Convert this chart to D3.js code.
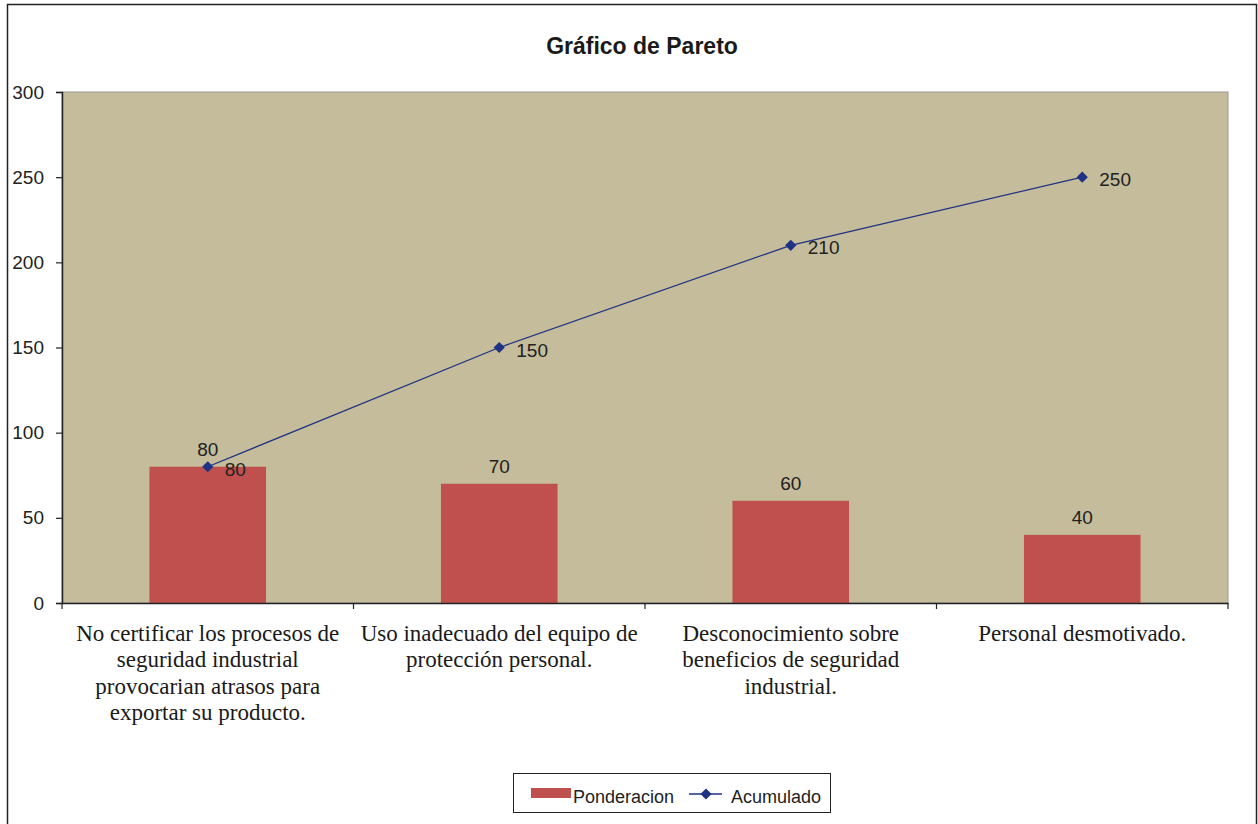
<!DOCTYPE html>
<html>
<head>
<meta charset="utf-8">
<script src="https://cdn.jsdelivr.net/npm/d3@7"></script>
<style>
  html, body { margin: 0; padding: 0; background: #fff; }
  svg { display: block; }
</style>
</head>
<body>
<svg id="chart" width="1258" height="824"></svg>
<script>
const categories = [
  ["No certificar los procesos de", "seguridad industrial", "provocarian atrasos para", "exportar su producto."],
  ["Uso inadecuado del equipo de", "protección personal."],
  ["Desconocimiento sobre", "beneficios de seguridad", "industrial."],
  ["Personal desmotivado."]
];
const ponderacion = [80, 70, 60, 40];
const acumulado = [80, 150, 210, 250];
const yTicks = [0, 50, 100, 150, 200, 250, 300];
const title = "Gráfico de Pareto";
const seriesNames = ["Ponderacion", "Acumulado"];

const svg = d3.select("#chart");
const plot = { left: 62, top: 92, right: 1228, bottom: 603 };
const barColor = "#C0504D";
const lineColor = "#1F3283";
const bgColor = "#C4BC9A";
const sans = "Arial, 'Liberation Sans', Helvetica, sans-serif";
const serif = "'Times New Roman', 'Liberation Serif', Times, serif";

// outer border
svg.append("rect").attr("x", 7.5).attr("y", 4.5).attr("width", 1249).attr("height", 840)
  .attr("fill", "#fff").attr("stroke", "#222").attr("stroke-width", 1.5);

// title
svg.append("text").attr("x", 642).attr("y", 54).attr("text-anchor", "middle")
  .attr("font-family", sans).attr("font-weight", "bold").attr("font-size", 23)
  .attr("fill", "#1a1a1a").text(title);

const idx = categories.map((d, i) => i);
const x = d3.scaleBand().domain(idx).range([plot.left, plot.right]).paddingInner(0).paddingOuter(0);
const y = d3.scaleLinear().domain([0, 300]).range([plot.bottom, plot.top]);

// plot area
svg.append("rect").attr("x", plot.left).attr("y", plot.top)
  .attr("width", plot.right - plot.left).attr("height", plot.bottom - plot.top)
  .attr("fill", bgColor).attr("stroke", "#999").attr("stroke-width", 1);

// bars
const bw = x.bandwidth() / 2.5;
svg.append("g").selectAll("rect").data(ponderacion).join("rect")
  .attr("x", (d, i) => x(i) + x.bandwidth() / 2 - bw / 2)
  .attr("y", d => y(d))
  .attr("width", bw)
  .attr("height", d => y(0) - y(d))
  .attr("fill", barColor);

// y axis
const yAxis = d3.axisLeft(y).tickValues(yTicks).tickSize(6).tickPadding(12);
const gy = svg.append("g").attr("transform", `translate(${plot.left},0)`).call(yAxis);
gy.select(".domain").attr("stroke", "#222").attr("stroke-width", 1.5);
gy.selectAll(".tick line").attr("stroke", "#222").attr("stroke-width", 1.2);
gy.selectAll("text").attr("font-family", sans).attr("font-size", 19).attr("fill", "#222");

// x axis
const xAxis = d3.axisBottom(x).tickSize(0).tickFormat("");
const gx = svg.append("g").attr("transform", `translate(0,${plot.bottom})`).call(xAxis);
gx.select(".domain").attr("stroke", "#222").attr("stroke-width", 1.5);
gx.selectAll(".tick").remove();
const bounds = idx.map(i => x(i)).concat([plot.right]);
svg.append("g").selectAll("line").data(bounds).join("line")
  .attr("x1", d => d).attr("x2", d => d)
  .attr("y1", plot.bottom).attr("y2", plot.bottom + 6)
  .attr("stroke", "#222").attr("stroke-width", 1.2);

// category labels
const catG = svg.append("g");
categories.forEach((lines, i) => {
  const t = catG.append("text").attr("text-anchor", "middle")
    .attr("font-family", serif).attr("font-size", 23).attr("fill", "#1a1a1a");
  lines.forEach((ln, j) => {
    t.append("tspan").attr("x", x(i) + x.bandwidth() / 2).attr("y", 641 + j * 26.4).text(ln);
  });
});

// line
const cx = i => x(i) + x.bandwidth() / 2;
const line = d3.line().x((d, i) => cx(i)).y(d => y(d));
svg.append("path").datum(acumulado).attr("d", line)
  .attr("fill", "none").attr("stroke", lineColor).attr("stroke-width", 1.3);
const diamond = d3.symbol().type(d3.symbolDiamond2).size(80);
svg.append("g").selectAll("path").data(acumulado).join("path")
  .attr("d", diamond)
  .attr("transform", (d, i) => `translate(${cx(i)},${y(d)})`)
  .attr("fill", lineColor);

// bar labels
svg.append("g").selectAll("text").data(ponderacion).join("text")
  .attr("x", (d, i) => cx(i)).attr("y", d => y(d) - 11)
  .attr("text-anchor", "middle").attr("font-family", sans).attr("font-size", 19)
  .attr("fill", "#222").text(d => d);

// line labels
svg.append("g").selectAll("text").data(acumulado).join("text")
  .attr("x", (d, i) => cx(i) + 17).attr("y", d => y(d) + 9)
  .attr("font-family", sans).attr("font-size", 19)
  .attr("fill", "#222").text(d => d);

// legend
const lg = svg.append("g");
lg.append("rect").attr("x", 513.5).attr("y", 773.5).attr("width", 317).attr("height", 39)
  .attr("fill", "#fff").attr("stroke", "#222").attr("stroke-width", 1);
lg.append("rect").attr("x", 531).attr("y", 788).attr("width", 40).attr("height", 10).attr("fill", barColor);
lg.append("text").attr("x", 573).attr("y", 803).attr("font-family", sans).attr("font-size", 18)
  .attr("fill", "#222").text(seriesNames[0]);
lg.append("line").attr("x1", 689).attr("x2", 722).attr("y1", 794).attr("y2", 794)
  .attr("stroke", lineColor).attr("stroke-width", 1.3);
lg.append("path").attr("d", diamond).attr("transform", "translate(706,794)").attr("fill", lineColor);
lg.append("text").attr("x", 731).attr("y", 803).attr("font-family", sans).attr("font-size", 18)
  .attr("fill", "#222").text(seriesNames[1]);
</script>
</body>
</html>
